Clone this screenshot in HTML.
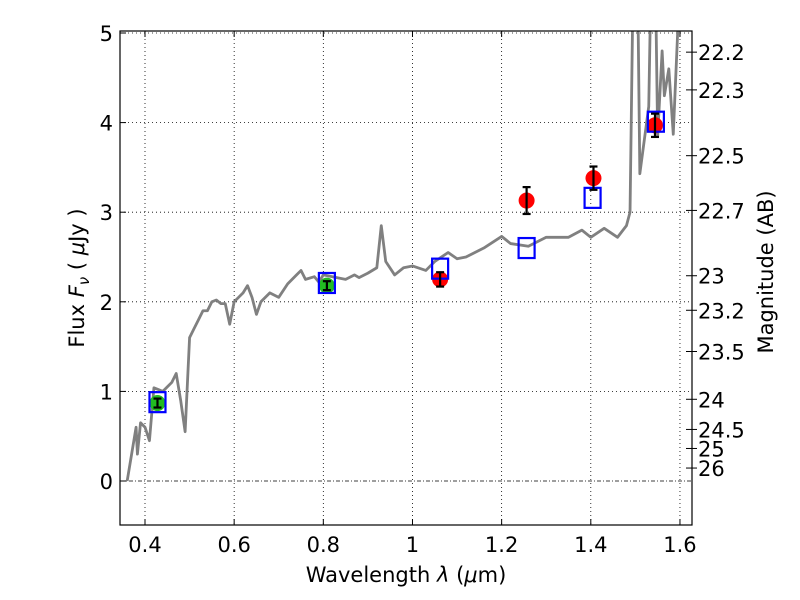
<!DOCTYPE html>
<html><head><meta charset="utf-8"><style>body{margin:0;background:#fff}svg{display:block;font-family:"DejaVu Sans","Liberation Sans",sans-serif}</style></head>
<body>
<svg id="chart" width="800" height="600" xmlns="http://www.w3.org/2000/svg">
<defs><clipPath id="clip"><rect x="120" y="31" width="572" height="494"/></clipPath></defs>
<rect x="0" y="0" width="800" height="600" fill="#fff"/>
<g id="grid"></g>
<g id="spec" clip-path="url(#clip)"></g>
<g id="marks"></g>
<rect x="120" y="31" width="572" height="494" fill="none" stroke="#000" stroke-width="1.2"/>
<g id="axes"></g>
<text x="406" y="582" font-size="21" text-anchor="middle">Wavelength  <tspan font-style="italic">λ</tspan> (<tspan font-style="italic">μ</tspan>m)</text>
<text transform="translate(84,278) rotate(-90)" font-size="21" text-anchor="middle">Flux  <tspan font-style="italic">F</tspan><tspan font-style="italic" font-size="15" dy="5">ν</tspan><tspan dy="-5">  ( </tspan><tspan font-style="italic">μ</tspan>Jy )</text>
<text transform="translate(773,272) rotate(-90)" font-size="21" text-anchor="middle">Magnitude (AB)</text>
</svg>
<script>
const specWave=[0.36,0.37,0.38,0.383,0.39,0.40,0.41,0.42,0.43,0.44,0.45,0.46,0.47,0.48,0.49,0.50,0.51,0.52,0.53,0.54,0.55,0.56,0.57,0.58,0.59,0.60,0.61,0.62,0.63,0.64,0.65,0.66,0.68,0.70,0.72,0.74,0.75,0.76,0.78,0.79,0.80,0.83,0.85,0.87,0.88,0.90,0.92,0.93,0.94,0.96,0.98,1.0,1.03,1.05,1.08,1.10,1.12,1.16,1.2,1.22,1.26,1.30,1.35,1.38,1.40,1.43,1.46,1.48,1.488,1.495,1.505,1.51,1.53,1.535,1.545,1.55,1.56,1.565,1.575,1.585,1.6,1.61];
const specFlux=[0.0,0.3,0.6,0.3,0.65,0.6,0.45,1.04,1.02,1.0,1.05,1.1,1.2,0.9,0.55,1.6,1.7,1.8,1.9,1.9,2.0,2.02,1.98,1.98,1.75,2.0,2.05,2.1,2.18,2.05,1.86,2.0,2.1,2.05,2.2,2.3,2.35,2.25,2.28,2.22,2.3,2.27,2.25,2.3,2.27,2.32,2.38,2.85,2.45,2.3,2.38,2.4,2.35,2.45,2.55,2.48,2.5,2.6,2.73,2.65,2.62,2.72,2.72,2.8,2.72,2.82,2.72,2.85,3.0,5.6,5.6,3.43,4.18,5.6,5.6,3.85,4.8,4.3,4.6,3.87,5.6,5.6];
const obsWave=[0.428,0.808,1.062,1.256,1.406,1.544];
const obsFlux=[0.87,2.18,2.25,3.13,3.38,3.97];
const obsErr=[0.05,0.05,0.08,0.15,0.13,0.13];
const obsColor=['#22bb22','#22bb22','#ff0000','#ff0000','#ff0000','#ff0000'];
const modelWave=[0.428,0.808,1.062,1.256,1.404,1.546];
const modelFlux=[0.88,2.21,2.37,2.6,3.16,4.01];
const xTicks=[0.4,0.6,0.8,1.0,1.2,1.4,1.6];
const xTickLabels=['0.4','0.6','0.8','1','1.2','1.4','1.6'];
const yTicks=[0,1,2,3,4,5];
const magTicks=[22.2,22.3,22.5,22.7,23,23.2,23.5,24,24.5,25,26];
const NS='http://www.w3.org/2000/svg';
const X=l=>145+(l-0.4)*445.8;
const Y=f=>481-f*89.6;
function mk(p,t,a){const e=document.createElementNS(NS,t);for(const k in a)e.setAttribute(k,a[k]);p.appendChild(e);return e;}
const grid=document.getElementById('grid'),axes=document.getElementById('axes');
xTicks.forEach((t,i)=>{
 const l=mk(grid,'line',{x1:X(t),x2:X(t),y1:31,y2:525,stroke:'#000','stroke-width':0.8,'stroke-dasharray':'1,3'});
 
 
 mk(axes,'line',{x1:X(t),x2:X(t),y1:525,y2:519,stroke:'#000'});
 mk(axes,'line',{x1:X(t),x2:X(t),y1:31,y2:37,stroke:'#000'});
 const tx=mk(axes,'text',{x:X(t),y:552,'font-size':21,'text-anchor':'middle'});tx.textContent=xTickLabels[i];
 
 
});
yTicks.forEach(t=>{
 const l=mk(grid,'line',{x1:120,x2:692,y1:Y(t),y2:Y(t),stroke:'#000','stroke-width':0.8,'stroke-dasharray':t===0?'4,2,1,2':'1,3'});
 
 
 mk(axes,'line',{x1:120,x2:126,y1:Y(t),y2:Y(t),stroke:'#000'});
 const tx=mk(axes,'text',{x:113,y:Y(t)+8,'font-size':21,'text-anchor':'end'});tx.textContent=String(t);
 
 
});
magTicks.forEach(m=>{
 const f=Math.pow(10,(23.9-m)/2.5),y=Y(f);
 mk(axes,'line',{x1:692,x2:686,y1:y,y2:y,stroke:'#000'});
 mk(axes,'line',{x1:692,x2:697,y1:y,y2:y,stroke:'#000'});
 const tx=mk(axes,'text',{x:698,y:y+8,'font-size':21});tx.textContent=String(m);
 
 
});
const spec=document.getElementById('spec');
const pl=mk(spec,'polyline',{points:specWave.map((w,i)=>X(w)+','+Y(specFlux[i])).join(' '),fill:'none',stroke:'#808080','stroke-width':2.8,'stroke-linejoin':'round'});


const marks=document.getElementById('marks');
obsWave.forEach((w,i)=>{
 const c=mk(marks,'circle',{cx:X(w),cy:Y(obsFlux[i]),r:8,fill:obsColor[i]});
 
 
});
modelWave.forEach((w,i)=>{
 const r=mk(marks,'rect',{x:X(w)-8,y:Y(modelFlux[i])-10,width:16,height:20,fill:'none',stroke:'#0000ff','stroke-width':2.2});
 
 
});
obsWave.forEach((w,i)=>{
 const x=X(w),y1=Y(obsFlux[i]-obsErr[i]),y2=Y(obsFlux[i]+obsErr[i]);
 const g=mk(marks,'g',{stroke:'#000','stroke-width':2.2});
 
 
 mk(g,'line',{x1:x,x2:x,y1:y1,y2:y2});
 mk(g,'line',{x1:x-4,x2:x+4,y1:y1,y2:y1});
 mk(g,'line',{x1:x-4,x2:x+4,y1:y2,y2:y2});
});
</script>
</body></html>
